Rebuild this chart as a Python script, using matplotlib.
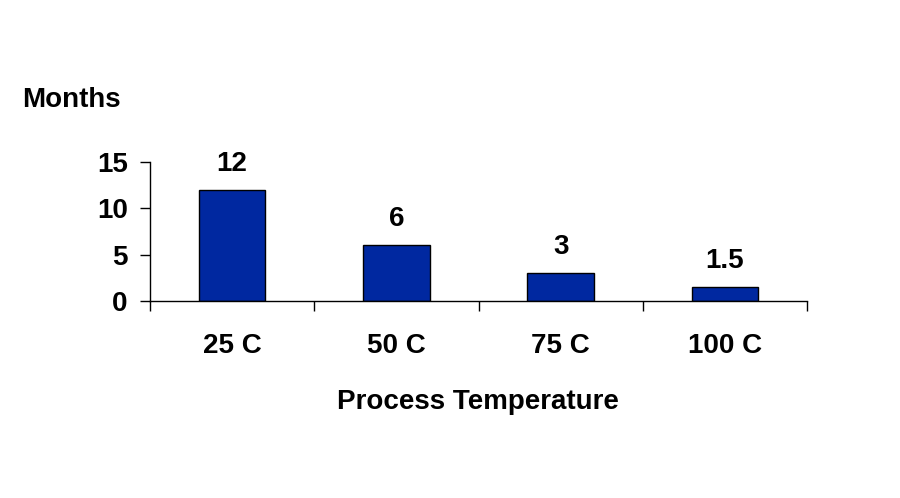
import matplotlib
matplotlib.use("Agg")
import matplotlib.pyplot as plt
import numpy as np

categories = ["25 C", "50 C", "75 C", "100 C"]
months = [12, 6, 3, 1.5]
value_labels = ["12", "6", "3", "1.5"]

plt.rcParams['font.family'] = ['Liberation Sans', 'DejaVu Sans']
plt.rcParams['font.weight'] = 'bold'

fig = plt.figure(figsize=(9, 4.98), dpi=100)
ax = fig.add_axes([150/900, 1-301/498, 657/900, 139/498])

x = np.arange(len(categories))
bars = ax.bar(x, months, width=0.405, color="#0028a0", edgecolor="black", linewidth=1.0)

# value labels above each bar
for xi, v, lab in zip(x, months, value_labels):
    ax.annotate(lab, (xi, v), xytext=(0, 13.7), textcoords="offset points",
                ha="center", va="baseline", fontsize=20, fontweight="bold")

ax.set_xlim(-0.5, 3.5)
ax.set_ylim(0, 15)
ax.set_yticks([0, 5, 10, 15])
ax.set_yticklabels(["0", "5", "10", "15"], fontsize=20, fontweight="bold")
ax.tick_params(axis="y", direction="out", length=7, width=1, pad=9)

ax.set_xticks(x)
ax.set_xticklabels(categories, fontsize=20, fontweight="bold")
ax.set_xticks(np.arange(-0.5, 4, 1), minor=True)
ax.tick_params(axis="x", which="major", length=0, pad=23)
ax.tick_params(axis="x", which="minor", direction="out", length=7, width=1)

for s in ["top", "right"]:
    ax.spines[s].set_visible(False)
ax.spines["left"].set_linewidth(1)
ax.spines["bottom"].set_linewidth(1)

fig.text(22/900, 1-107/498, "Months", ha="left", va="baseline", fontsize=20, fontweight="bold")
fig.text(478/900, 1-409/498, "Process Temperature", ha="center", va="baseline",
         fontsize=20, fontweight="bold")

fig.savefig("out.png", dpi=100)
